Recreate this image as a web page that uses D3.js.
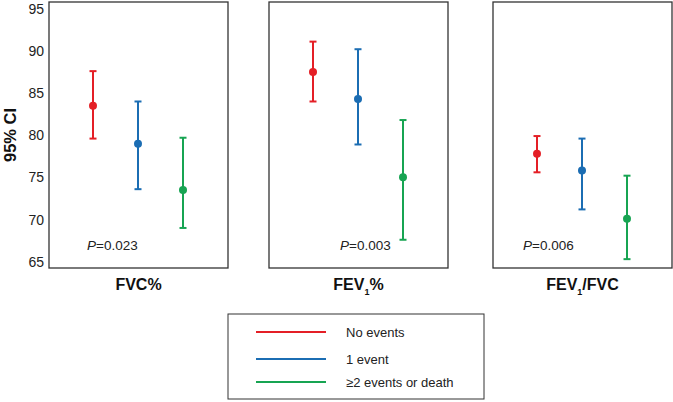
<!DOCTYPE html>
<html>
<head>
<meta charset="utf-8">
<script src="https://cdn.jsdelivr.net/npm/d3@7"></script>
<style>
  body { margin: 0; background: #fff; }
  text { font-family: Arial, "Liberation Sans", sans-serif; }
</style>
</head>
<body>
<div id="chart"></div>
<script>
// data
var groups = ["No events", "1 event", "\u22652 events or death"]
var groupColors = ["#e41f26", "#1b6db3", "#17a452"]
var panels = ["FVC%", "FEV1%", "FEV1/FVC"]
var pValues = ["0.023", "0.003", "0.006"]
var means = [
    [83.5, 79.0, 73.5],
    [87.5, 84.3, 75.0],
    [77.8, 75.8, 70.1]
]
var lowers = [
    [79.6, 73.6, 69.0],
    [84.0, 78.9, 67.6],
    [75.6, 71.2, 65.3]
]
var uppers = [
    [87.6, 84.0, 79.7],
    [91.1, 90.2, 81.8],
    [79.9, 79.6, 75.2]
]
var yTicks = [65, 70, 75, 80, 85, 90, 95]

var svgWidth = 673
var svgHeight = 402

var svg = d3.select("#chart")
    .append("svg")
    .attr("width", svgWidth)
    .attr("height", svgHeight)

var panelLeft = [49, 269, 493]
var panelWidth = 179
var panelTop = 2
var panelBottom = 268

var yScale = d3.scaleLinear()
    .domain([64.25, 95.8])
    .range([panelBottom, panelTop])

// y axis ticks (no axis line, the panel box works as one)
var yAxis = d3.axisLeft(yScale)
    .tickValues(yTicks)
    .tickSize(0)
    .tickPadding(5)
var yAxisG = svg.append("g")
    .attr("transform", `translate(${panelLeft[0]},0)`)
    .call(yAxis)
yAxisG.select(".domain").remove()
yAxisG.selectAll("text")
    .attr("font-size", "14px")
    .attr("fill", "#222")

svg.append("text")
    .attr("transform", `translate(16,135) rotate(-90)`)
    .attr("text-anchor", "middle")
    .attr("font-size", "16.5px")
    .attr("font-weight", "bold")
    .attr("fill", "#111")
    .text("95% CI")

var pPos = [
    { x: 38, y: 245 },
    { x: 71, y: 245 },
    { x: 30, y: 245 }
]

panels.forEach(function (name, i) {
    var g = svg.append("g")
        .attr("transform", `translate(${panelLeft[i]},0)`)

    var xScale = d3.scalePoint()
        .domain(groups)
        .range([44, 134])

    g.append("rect")
        .attr("x", 0)
        .attr("y", panelTop)
        .attr("width", panelWidth)
        .attr("height", panelBottom - panelTop)
        .attr("fill", "none")
        .attr("stroke", "#333")
        .attr("stroke-width", 1.3)

    groups.forEach(function (grp, j) {
        var cx = xScale(grp)
        var col = groupColors[j]
        g.append("line")
            .attr("x1", cx).attr("x2", cx)
            .attr("y1", yScale(lowers[i][j]))
            .attr("y2", yScale(uppers[i][j]))
            .attr("stroke", col)
            .attr("stroke-width", 2)
        ;[lowers[i][j], uppers[i][j]].forEach(function (v) {
            g.append("line")
                .attr("x1", cx - 3.5).attr("x2", cx + 3.5)
                .attr("y1", yScale(v)).attr("y2", yScale(v))
                .attr("stroke", col)
                .attr("stroke-width", 2)
        })
        g.append("circle")
            .attr("cx", cx)
            .attr("cy", yScale(means[i][j]))
            .attr("r", 4)
            .attr("fill", col)
    })

    var pt = g.append("text")
        .attr("x", pPos[i].x)
        .attr("y", pPos[i].y + 5)
        .attr("font-size", "13.5px")
        .attr("fill", "#222")
    pt.append("tspan").attr("font-style", "italic").text("P")
    pt.append("tspan").text("=" + pValues[i])

    // panel title, with subscript 1 for FEV
    var t = g.append("text")
        .attr("x", panelWidth / 2)
        .attr("y", 290)
        .attr("text-anchor", "middle")
        .attr("font-size", "16px")
        .attr("font-weight", "bold")
        .attr("fill", "#111")
    if (name.indexOf("FEV1") === 0) {
        t.append("tspan").text("FEV")
        t.append("tspan").attr("font-size", "9px").attr("dy", 5).text("1")
        t.append("tspan").attr("dy", -5).text(name.slice(4))
    } else {
        t.text(name)
    }
})

// legend
var legend = svg.append("g")
    .attr("transform", "translate(228,314)")
legend.append("rect")
    .attr("width", 256)
    .attr("height", 85)
    .attr("fill", "none")
    .attr("stroke", "#333")
    .attr("stroke-width", 1)

var legendY = [18, 45, 68]
groups.forEach(function (grp, j) {
    legend.append("line")
        .attr("x1", 28).attr("x2", 98)
        .attr("y1", legendY[j]).attr("y2", legendY[j])
        .attr("stroke", groupColors[j])
        .attr("stroke-width", 2)
    legend.append("text")
        .attr("x", 118)
        .attr("y", legendY[j] + 4.5)
        .attr("font-size", "13px")
        .attr("fill", "#222")
        .text(grp)
})
</script>
</body>
</html>
